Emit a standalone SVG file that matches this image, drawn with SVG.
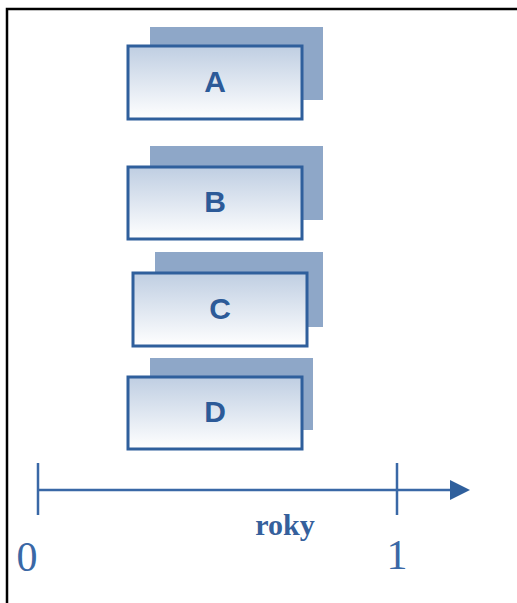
<svg xmlns="http://www.w3.org/2000/svg" width="517" height="603" viewBox="0 0 517 603">
<defs>
<linearGradient id="g" x1="0" y1="0" x2="0" y2="1">
<stop offset="0" stop-color="#bfcee2"/>
<stop offset="1" stop-color="#ffffff"/>
</linearGradient>
<marker id="arr" markerWidth="20" markerHeight="20" refX="0" refY="10" orient="auto" markerUnits="userSpaceOnUse" viewBox="0 0 20 20">
<path d="M0,0 L20,10 L0,20 Z" fill="#2f5f9c"/>
</marker>
</defs>
<style>
.sh{fill:#8ea7c8}
.bx{fill:url(#g);stroke:#2f5f9c;stroke-width:3}
.lb{font-family:"Liberation Sans",Arial,sans-serif;font-weight:bold;font-size:30px;fill:#2c5a98;text-anchor:middle}
.ax{stroke:#3a68a6;stroke-width:2.5;fill:none}
.num{font-family:"Liberation Serif","Times New Roman",serif;font-size:42px;fill:#3a68a6;text-anchor:middle}
.rk{font-family:"Liberation Serif","Times New Roman",serif;font-weight:bold;font-size:30px;fill:#35609c;text-anchor:middle}
</style>
<rect width="517" height="603" fill="#ffffff"/>
<path d="M7,603 V9 H517" fill="none" stroke="#000" stroke-width="2.5"/>
<g id="A">
<rect class="sh" x="150" y="27" width="173" height="73"/>
<rect class="bx" x="128" y="46" width="174" height="73"/>
<text class="lb" x="215" y="92">A</text>
</g>
<g id="B">
<rect class="sh" x="150" y="146" width="173" height="74"/>
<rect class="bx" x="128" y="167" width="174" height="72"/>
<text class="lb" x="215" y="212">B</text>
</g>
<g id="C">
<rect class="sh" x="155" y="252" width="168" height="75"/>
<rect class="bx" x="133" y="273" width="174" height="73"/>
<text class="lb" x="220" y="319">C</text>
</g>
<g id="D">
<rect class="sh" x="150" y="358" width="163" height="72"/>
<rect class="bx" x="128" y="377" width="174" height="72"/>
<text class="lb" x="215" y="422">D</text>
</g>
<g id="axis">
<path class="ax" d="M38,490 H450" marker-end="url(#arr)"/>
<path class="ax" d="M38,463 V515 M397,463 V515"/>
</g>
<text class="num" x="27" y="571">0</text>
<text class="num" x="397" y="569">1</text>
<text class="rk" x="285" y="535">roky</text>
</svg>
